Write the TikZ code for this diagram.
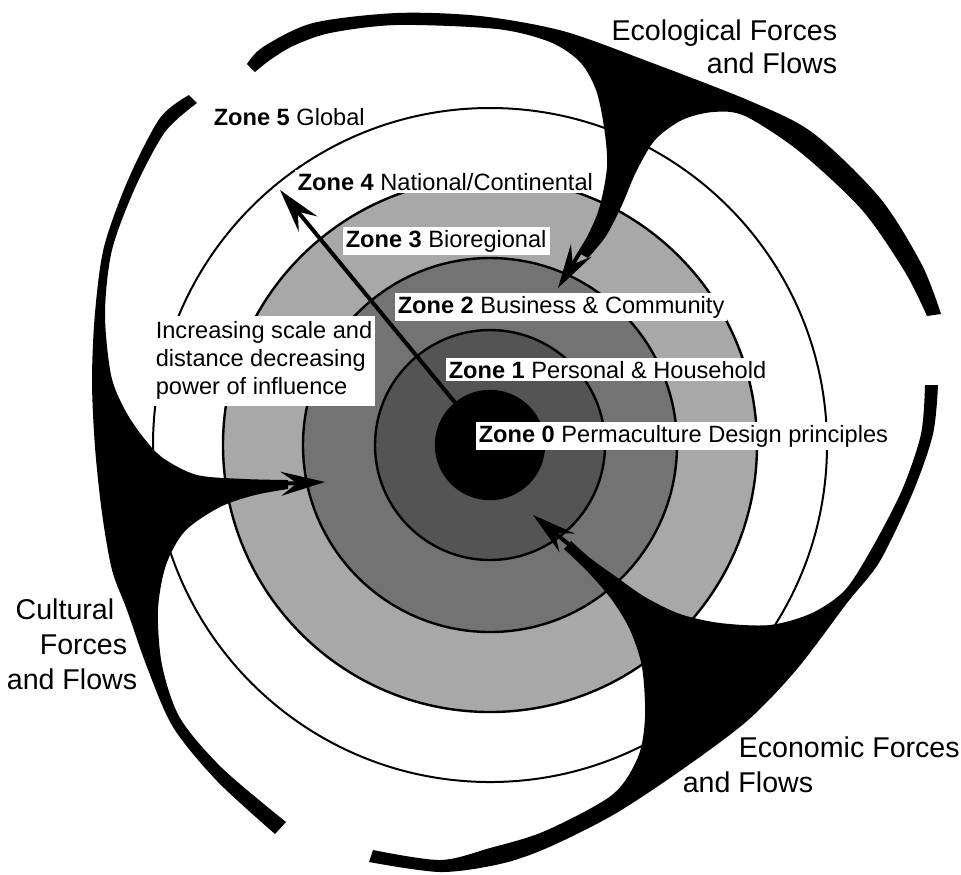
\documentclass[tikz,border=0pt]{standalone}
\usepackage{fontspec}
\setmainfont{Liberation Sans}
\usetikzlibrary{arrows.meta}
\definecolor{ringone}{gray}{0.33}
\definecolor{ringtwo}{gray}{0.45}
\definecolor{ringthree}{gray}{0.66}
\begin{document}
\begin{tikzpicture}[x=0.5pt,y=-0.5pt,thick,
>={Stealth[length=22pt,width=12pt,inset=8pt]},
ring/.style={circle,draw,line width=1.2pt,inner sep=0pt},
zonetext/.style={fill=white,inner sep=1.5pt,font=\fontsize{11.8}{14}\selectfont},
forcetext/.style={inner sep=0pt,font=\fontsize{14.3}{17.5}\selectfont}]
\useasboundingbox (0,0) rectangle (961,874);
\def\zone#1#2{\textbf{Zone #1} #2}
\def\flow#1#2{
\draw[->,line width=2pt] #1 -- #2;
}
\coordinate (centre) at (490,445);
\node[ring,line width=1pt,minimum size=337pt] (zone4) at (centre) {};
\node[ring,fill=ringthree,minimum size=267pt] (zone3) at (centre) {};
\node[ring,fill=ringtwo,minimum size=187pt] (zone2) at (centre) {};
\node[ring,fill=ringone,minimum size=115pt] (zone1) at (centre) {};
\node[ring,fill=black,minimum size=54pt] (zone0) at (centre) {};

\fill plot[smooth] coordinates {(247,64) (263,47) (313,23) (397,13) (480,16) (563,31) (647,61) (750,101) (813,133) (880,198) (922,265) (941,314)}
-- plot[smooth] coordinates {(927,316) (905,272) (862,210) (800,152) (745,116) (713,112) (682,120) (655,140) (636,172) (622,205) (606,236) (588,258)}
-- plot[smooth] coordinates {(579,253) (598,212) (607,167) (604,127) (596,90) (580,62) (550,42) (497,29) (397,25) (330,33) (293,46) (270,60) (255,72)}
-- cycle;

\fill plot[smooth] coordinates {(189,95) (160,118) (128,180) (104,247) (95,313) (92,380) (95,447) (102,513) (112,570) (127,610) (147,667) (173,727) (217,781) (275,834)}
-- plot[smooth] coordinates {(286,822) (222,768) (180,718) (162,665) (158,610) (166,565) (185,531) (220,507) (255,495) (288,489)}
-- plot[smooth] coordinates {(288,480) (245,479) (197,475) (163,458) (143,437) (125,410) (111,375) (105,313) (112,250) (135,188) (165,132) (197,103)}
-- cycle;

\fill plot[smooth] coordinates {(369,862) (440,872) (500,864) (547,848) (613,815) (680,771) (747,721) (797,669) (847,603) (880,561) (913,492) (933,434) (938,385)}
-- plot[smooth] coordinates {(925,385) (921,434) (902,490) (872,548) (845,590) (812,613) (770,625) (720,623) (680,614) (645,597) (615,576) (590,558) (571,541)}
-- plot[smooth] coordinates {(564,549) (588,572) (612,600) (630,630) (642,667) (645,717) (638,757) (612,795) (545,831) (490,848) (440,860) (373,850)}
-- cycle;

\coordinate (ecoroot) at (603,215);
\coordinate (ecotip) at (558,288);
\coordinate (cultroot) at (250,485);
\coordinate (culttip) at (325,482);
\coordinate (econroot) at (610,578);
\coordinate (econtip) at (533,515);
\coordinate (reach) at (280,190);
\flow{(ecoroot)}{(ecotip)}
\flow{(cultroot)}{(culttip)}
\flow{(econroot)}{(econtip)}
\flow{(zone0)}{(reach)}

\node[zonetext,anchor=base west] (z5) at (210,125) {\zone{5}{Global}};
\node[zonetext,anchor=base west] (z4) at (294,190) {\zone{4}{National/Continental}};
\node[zonetext,anchor=base west] (z3) at (342,247) {\zone{3}{Bioregional}};
\node[zonetext,anchor=base west] (z2) at (394,313) {\zone{2}{Business \& Community}};
\node[zonetext,anchor=base west] (z1) at (445,378) {\zone{1}{Personal \& Household}};
\node[zonetext,anchor=base west] (z0) at (475,442) {\zone{0}{Permaculture Design principles}};
\node[zonetext,inner ysep=3pt,align=left,anchor=north west] (scale) at (152,315) {Increasing scale and\\distance decreasing\\power of influence};

\node[forcetext,anchor=base east] (eco1) at (838,40) {Ecological Forces};
\node[forcetext,anchor=base east] (eco2) at (838,73) {and Flows};
\node[forcetext,anchor=base east] (cult1) at (115,619) {Cultural};
\node[forcetext,anchor=base east] (cult2) at (128,654) {Forces};
\node[forcetext,anchor=base east] (cult3) at (138,689) {and Flows};
\node[forcetext,anchor=base west] (econ1) at (738,757) {Economic Forces};
\node[forcetext,anchor=base west] (econ2) at (682,792) {and Flows};
\end{tikzpicture}
\end{document}
